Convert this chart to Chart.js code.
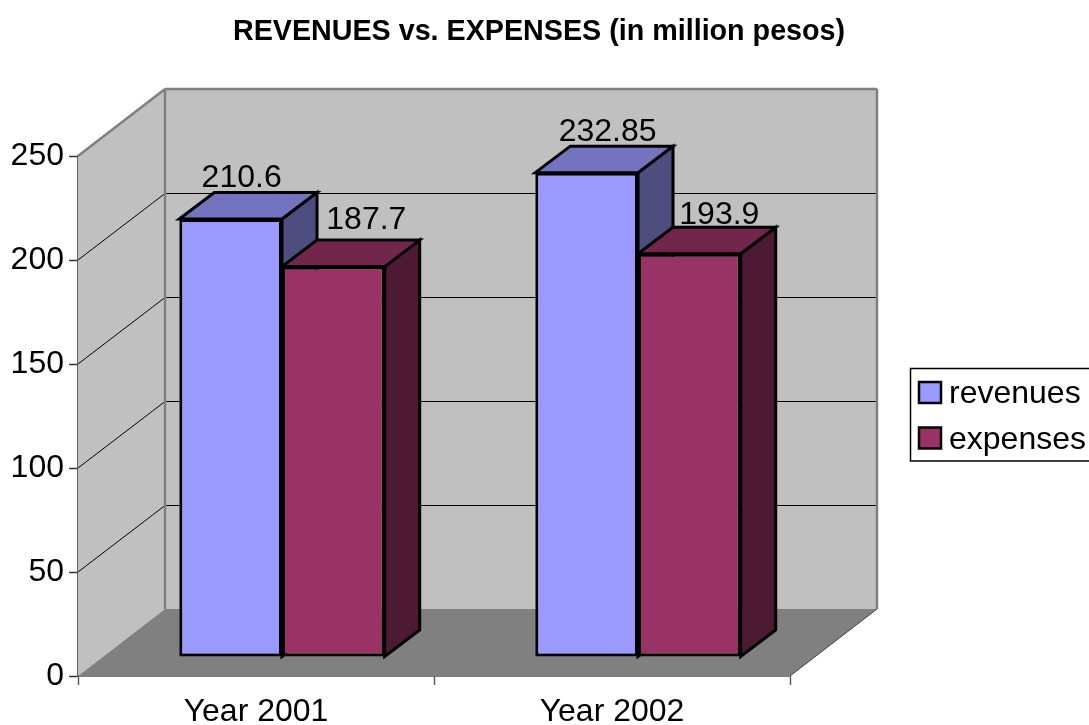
<!DOCTYPE html>
<html>
<head>
<meta charset="utf-8">
<title>REVENUES vs. EXPENSES</title>
<script src="https://cdn.jsdelivr.net/npm/chart.js@4"></script>
<style>
  html, body { margin: 0; padding: 0; background: #fff; overflow: hidden; }
  canvas { display: block; }
</style>
</head>
<body>
<canvas id="myChart" width="1089" height="725"></canvas>
<script>
var chartTitle = "REVENUES vs. EXPENSES (in million pesos)";
var categories = ["Year 2001", "Year 2002"];
var seriesNames = ["revenues", "expenses"];
var revenues = [210.6, 232.85];
var expenses = [187.7, 193.9];

var FONT = '"Liberation Sans", Arial, sans-serif';

// box depth of the room and of the bars, in pixels
var roomDepth = { x: 87, y: -67 };
var barDepth = { x: 35, y: -26.5 };
var barShift = { x: 26, y: -19 };

var fills = [
  { front: "#9999FF", top: "#7373BF", side: "#4D4D80" },
  { front: "#993366", top: "#73264C", side: "#4D1A33" }
];

// where each value label sits relative to the top of its bar's front face
var labelOffsets = [
  [{ x: 11, y: -32 }, { x: 21, y: -32 }],
  [{ x: 33, y: -38 }, { x: 30, y: -30 }]
];

function polygon(ctx, pts, fill, stroke, lineWidth) {
  ctx.beginPath();
  ctx.moveTo(pts[0][0], pts[0][1]);
  for (var i = 1; i < pts.length; i++) {
    ctx.lineTo(pts[i][0], pts[i][1]);
  }
  ctx.closePath();
  if (fill) {
    ctx.fillStyle = fill;
    ctx.fill();
  }
  if (stroke) {
    ctx.strokeStyle = stroke;
    ctx.lineWidth = lineWidth;
    ctx.lineJoin = "miter";
    ctx.stroke();
  }
}

function line(ctx, x1, y1, x2, y2, color, width) {
  ctx.beginPath();
  ctx.moveTo(x1, y1);
  ctx.lineTo(x2, y2);
  ctx.strokeStyle = color;
  ctx.lineWidth = width;
  ctx.stroke();
}

function drawRoom(chart) {
  var ctx = chart.ctx;
  var a = chart.chartArea;
  var dx = roomDepth.x, dy = roomDepth.y;

  // left wall, back wall, floor
  polygon(ctx, [[a.left, a.top], [a.left + dx, a.top + dy], [a.left + dx, a.bottom + dy], [a.left, a.bottom]], "#C0C0C0");
  polygon(ctx, [[a.left + dx, a.top + dy], [a.right + dx, a.top + dy], [a.right + dx, a.bottom + dy], [a.left + dx, a.bottom + dy]], "#C0C0C0");
  polygon(ctx, [[a.left, a.bottom], [a.left + dx, a.bottom + dy], [a.right + dx, a.bottom + dy], [a.right, a.bottom]], "#808080");

  // gridlines wrap from the front edge of the left wall onto the back wall
  var yScale = chart.scales.y;
  yScale.ticks.forEach(function (t) {
    if (t.value === 0 || t.value === yScale.max) return;
    var y = yScale.getPixelForValue(t.value);
    var backY = Math.round(y + dy) + 0.5;
    line(ctx, a.left, y, a.left + dx, backY, "#000", 1);
    line(ctx, a.left + dx, backY, a.right + dx, backY, "#000", 1);
  });

  // wall outline
  line(ctx, a.left, a.top, a.left + dx, a.top + dy, "#808080", 2.5);
  line(ctx, a.left + dx, a.top + dy, a.right + dx, a.top + dy, "#808080", 2.5);
  line(ctx, a.left + dx, a.top + dy, a.left + dx, a.bottom + dy, "#808080", 2.5);
  line(ctx, a.right + dx, a.top + dy, a.right + dx, a.bottom + dy, "#808080", 2.5);
  line(ctx, a.right, a.bottom, a.right + dx, a.bottom + dy, "#404040", 1);
}

function drawBarFaces(chart) {
  var ctx = chart.ctx;
  var dx = barDepth.x, dy = barDepth.y;
  [0, 1].forEach(function (ds) {
    chart.getDatasetMeta(ds).data.forEach(function (bar) {
      var p = bar.getProps(["x", "y", "base", "width"], true);
      var l = p.x - p.width / 2 + barShift.x;
      var r = p.x + p.width / 2 + barShift.x;
      var t = p.y + barShift.y;
      var b = p.base + barShift.y;
      polygon(ctx, [[r, t], [r + dx, t + dy], [r + dx, b + dy], [r, b]], fills[ds].side, "#000", 3);
      polygon(ctx, [[l, t], [l + dx, t + dy], [r + dx, t + dy], [r, t]], fills[ds].top, "#000", 3);
    });
  });
}

function drawValueLabels(chart) {
  var ctx = chart.ctx;
  ctx.font = "32px " + FONT;
  ctx.fillStyle = "#000";
  ctx.textAlign = "center";
  ctx.textBaseline = "alphabetic";
  [0, 1].forEach(function (ds) {
    var values = chart.data.datasets[ds].data;
    chart.getDatasetMeta(ds).data.forEach(function (bar, i) {
      var p = bar.getProps(["x", "y"], true);
      var off = labelOffsets[ds][i];
      ctx.fillText(String(values[i]), p.x + barShift.x + off.x, p.y + barShift.y + off.y);
    });
  });
}

function drawTitle(chart) {
  var ctx = chart.ctx;
  ctx.font = "bold 28.7px " + FONT;
  ctx.fillStyle = "#000";
  ctx.textAlign = "center";
  ctx.textBaseline = "alphabetic";
  ctx.fillText(chartTitle, 539, 40);
}

function drawLegend(chart) {
  var ctx = chart.ctx;
  ctx.strokeStyle = "#000";
  ctx.lineWidth = 1.5;
  ctx.strokeRect(910.5, 368.5, 200, 92.5);

  ctx.font = "32px " + FONT;
  ctx.textAlign = "left";
  ctx.textBaseline = "alphabetic";
  var swatchTop = [382, 427.5];
  var baseline = [402.5, 448.5];
  seriesNames.forEach(function (name, i) {
    ctx.fillStyle = fills[i].front;
    ctx.fillRect(919, swatchTop[i], 22, 21);
    ctx.strokeStyle = "#000";
    ctx.lineWidth = 2.5;
    ctx.strokeRect(919, swatchTop[i], 22, 21);
    ctx.fillStyle = "#000";
    ctx.fillText(name, 949, baseline[i]);
  });
}

var box3d = {
  id: "box3d",
  beforeDatasetsDraw: function (chart) {
    drawRoom(chart);
    drawBarFaces(chart);
    // the library then draws the front faces, pushed back onto the floor
    chart.ctx.save();
    chart.ctx.translate(barShift.x, barShift.y);
  },
  afterDatasetsDraw: function (chart) {
    chart.ctx.restore();
    drawValueLabels(chart);
  },
  afterDraw: function (chart) {
    drawTitle(chart);
    drawLegend(chart);
  }
};

function createChart() {
  var ctx = document.getElementById("myChart").getContext("2d");
  return new Chart(ctx, {
    type: "bar",
    data: {
      labels: categories,
      datasets: [
        { label: seriesNames[0], data: revenues, backgroundColor: fills[0].front, borderColor: "#000", borderWidth: 3, borderSkipped: false },
        { label: seriesNames[1], data: expenses, backgroundColor: fills[1].front, borderColor: "#000", borderWidth: 3, borderSkipped: false }
      ]
    },
    plugins: [box3d],
    options: {
      responsive: false,
      animation: false,
      layout: { padding: { left: 0, right: 299, top: 156, bottom: 0 } },
      categoryPercentage: 0.577,
      barPercentage: 1,
      plugins: {
        legend: { display: false },
        title: { display: false },
        tooltip: { enabled: false }
      },
      scales: {
        x: {
          afterFit: function (scale) { scale.height = 49; },
          grid: { drawOnChartArea: false, tickLength: 9, tickColor: "#606060", tickWidth: 1.5 },
          border: { color: "#000", width: 1.5 },
          ticks: { color: "#000", font: { family: FONT, size: 32 }, padding: 8, maxRotation: 0 }
        },
        y: {
          min: 0,
          max: 250,
          afterFit: function (scale) { scale.width = 78; },
          grid: { drawOnChartArea: false, tickLength: 9, tickColor: "#303030", tickWidth: 1.5 },
          border: { color: "#606060", width: 1.5 },
          ticks: { stepSize: 50, color: "#000", font: { family: FONT, size: 32 }, padding: 5 }
        }
      }
    }
  });
}

createChart();
</script>
</body>
</html>
